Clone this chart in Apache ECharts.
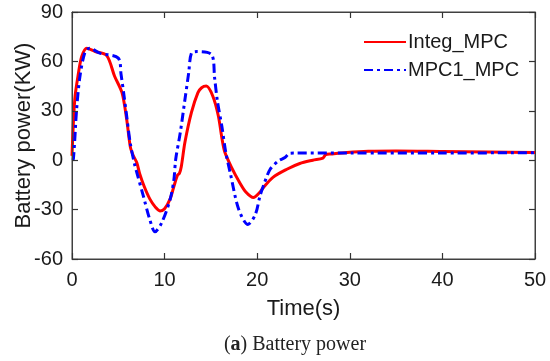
<!DOCTYPE html>
<html>
<head>
<meta charset="utf-8">
<script src="https://cdn.jsdelivr.net/npm/echarts@6/dist/echarts.min.js"></script>
<style>html,body{margin:0;padding:0;background:#fff}#c{width:550px;height:361px}</style>
</head>
<body>
<div id="c"></div>
<script>
const integT = [0, 0.3, 0.7, 1.05, 1.6, 2.5, 3.75, 4.6, 5.4, 5.9, 6.3, 6.6, 7.0, 7.3, 7.8, 8.4, 9.0, 9.5, 10.0, 10.6, 11.0, 11.4, 11.6, 11.8, 12.2, 12.9, 13.6, 14.0, 14.5, 15.2, 15.8, 16.2, 16.5, 17.2, 18.1, 18.8, 19.6, 20.2, 20.7, 21.7, 23.2, 24.6, 26, 27.1, 27.4, 28, 29.7, 32, 35, 40, 45, 50];
const integP = [2.6, 37, 53, 63, 68, 66, 63.5, 51, 41, 25, 8, 3, -1.5, -8, -16, -23.5, -28.5, -30.8, -29.5, -23.5, -16, -9, -8, -4, 11, 29, 41, 44, 45, 39, 27, 13, 5, -4, -13.5, -19.5, -22.7, -20, -16.4, -10.4, -5.5, -2, 0, 1.3, 3.4, 3.8, 4.7, 5.4, 5.6, 5.3, 5, 4.7];
const mpcT = [0, 0.15, 0.5, 0.86, 1.4, 1.9, 3, 5.0, 5.3, 5.6, 5.9, 6.3, 6.8, 7.0, 7.7, 8.4, 8.96, 9.7, 10.6, 11.0, 11.2, 11.7, 12.2, 12.6, 12.9, 13.5, 15.1, 15.4, 15.7, 16.2, 16.6, 17.1, 18.0, 19.0, 19.8, 20.3, 20.8, 21.4, 22.3, 23.0, 23.5, 24, 30, 40, 50];
const mpcP = [0, 0.6, 31, 51, 65.6, 68, 65, 62, 52, 40, 27, 10, -3.5, -7.5, -21.7, -36, -43.5, -37.8, -23.7, -12, 0.6, 17, 37, 53, 65, 66, 64, 50, 36, 20, 5, -8, -29.8, -39, -33, -21.7, -13.5, -5.5, -0.4, 1.6, 4.2, 4.3, 4.3, 4.4, 4.5];
const xTicks = [0, 10, 20, 30, 40, 50];
const yTicks = [-60, -30, 0, 30, 60, 90];

const pair = (t, v) => t.map((x, i) => [x, v[i]]);
const axisCol = '#404040';
const txtCol = '#1a1a1a';
const font = 'Liberation Sans, Arial, sans-serif';
const serif = 'Liberation Serif, DejaVu Serif, serif';
const lineAxis = () => ({ show: true, onZero: false, lineStyle: { color: axisCol, width: 1 } });
const tick = () => ({ show: true, inside: true, length: 6, interval: 0, lineStyle: { color: '#333', width: 1.2 } });

const chart = echarts.init(document.getElementById('c'));
chart.setOption({
  animation: false,
  backgroundColor: '#fff',
  grid: { left: 72, right: 15, top: 12, bottom: 102, containLabel: false, outerBoundsMode: 'none',
    show: true, borderColor: axisCol, borderWidth: 1, backgroundColor: 'transparent' },
  title: {
    text: '({b|a}) Battery power',
    left: 290, top: 330, textAlign: 'center',
    textStyle: { fontFamily: serif, fontSize: 20, fontWeight: 'normal', color: '#222',
      rich: { b: { fontFamily: serif, fontSize: 20, fontWeight: 'bold', color: '#222' } } }
  },
  legend: {
    orient: 'vertical', left: 358, top: 27, itemWidth: 42, itemHeight: 14, itemGap: 8,
    itemStyle: { opacity: 0 },
    textStyle: { fontFamily: font, fontSize: 20, color: txtCol, padding: [0, 0, 0, -3] },
    data: ['Integ_MPC', 'MPC1_MPC']
  },
  xAxis: [{
    show: true, type: 'value', min: 0, max: 50, interval: 10, position: 'bottom', z: 10,
    name: 'Time(s)', nameLocation: 'middle', nameGap: 39, nameMoveOverlap: false,
    nameTextStyle: { fontFamily: font, fontSize: 22, color: txtCol },
    axisLine: lineAxis(), axisTick: tick(),
    axisLabel: { fontFamily: font, fontSize: 20, color: txtCol, margin: 11, formatter: v => xTicks.includes(v) ? String(v) : '' },
    splitLine: { show: false }
  }, {
    show: true, type: 'value', min: 0, max: 50, interval: 10, position: 'top', z: 10,
    axisLine: lineAxis(), axisTick: tick(),
    axisLabel: { show: true, formatter: () => '' }, splitLine: { show: false }
  }],
  yAxis: [{
    show: true, type: 'value', min: -60, max: 90, interval: 30, position: 'left', z: 10,
    name: 'Battery power(KW)', nameLocation: 'middle', nameGap: 37, nameMoveOverlap: false,
    nameTextStyle: { fontFamily: font, fontSize: 22, color: txtCol },
    axisLine: lineAxis(), axisTick: tick(),
    axisLabel: { fontFamily: font, fontSize: 20, color: txtCol, margin: 9, formatter: v => yTicks.includes(v) ? String(v) : '' },
    splitLine: { show: false }
  }, {
    show: true, type: 'value', min: -60, max: 90, interval: 30, position: 'right', z: 10,
    axisLine: lineAxis(), axisTick: tick(),
    axisLabel: { show: true, formatter: () => '' }, splitLine: { show: false }
  }],
  series: [{
    name: 'Integ_MPC', type: 'line', data: pair(integT, integP), smooth: 0.3,
    xAxisIndex: 0, yAxisIndex: 0,
    symbol: 'none', color: '#ff0000',
    lineStyle: { color: '#ff0000', width: 3 }
  }, {
    name: 'MPC1_MPC', type: 'line', data: pair(mpcT, mpcP), smooth: 0.3,
    xAxisIndex: 1, yAxisIndex: 1,
    symbol: 'none', color: '#0000ff',
    lineStyle: { color: '#0000ff', width: 3, type: [9, 4, 3, 4] }
  }]
});
</script>
</body>
</html>
